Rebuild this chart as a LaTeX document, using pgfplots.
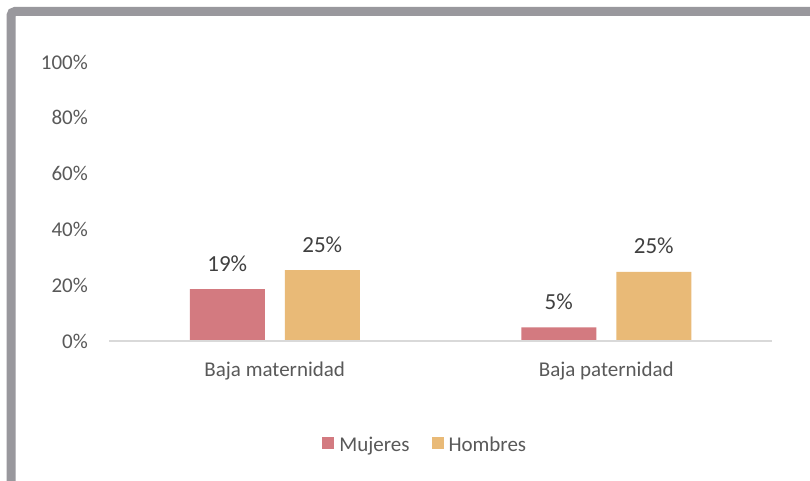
\documentclass[border=0pt]{standalone}
\usepackage{fontspec}
\setmainfont{Carlito}
\usepackage{pgfplots}
\pgfplotsset{compat=1.18}
\definecolor{frame}{RGB}{153,152,157}
\definecolor{muj}{RGB}{211,122,128}
\definecolor{hom}{RGB}{233,186,119}
\definecolor{ticktxt}{RGB}{89,89,89}
\definecolor{lbltxt}{RGB}{64,64,64}
\definecolor{axline}{RGB}{217,217,217}
\begin{document}
\begin{tikzpicture}
\path[use as bounding box] (0,0) rectangle (810pt,481pt);
\fill[white] (0,0) rectangle (810pt,481pt);
\draw[frame, line width=9pt, rounded corners=4pt] (11pt,-10pt) -- (11pt,469.5pt) -- (820pt,469.5pt);
\begin{axis}[
  at={(109pt,140pt)}, anchor=south west,
  scale only axis, width=663pt, height=279pt,
  xmin=-0.5, xmax=1.5, ymin=0, ymax=100,
  axis line style={draw=none},
  axis x line*=bottom, axis y line*=left,
  ybar=20pt, bar width=75pt,
  xtick={0,1}, xticklabels={Baja maternidad, Baja paternidad},
  ytick={0,20,40,60,80,100},
  yticklabels={0\%,20\%,40\%,60\%,80\%,100\%},
  major tick length=0pt, tick style={draw=none},
  x tick label style={anchor=base, yshift=-36pt, inner sep=0pt, font=\fontsize{21}{25}\selectfont, text=ticktxt},
  y tick label style={anchor=east, xshift=-21pt, inner sep=0pt, font=\fontsize{21}{25}\selectfont, text=ticktxt},
  point meta=explicit symbolic,
  nodes near coords,
  every node near coord/.append style={anchor=base, yshift=18pt, inner sep=0pt, font=\fontsize{23}{27}\selectfont, text=lbltxt},
  legend columns=2,
  legend style={at={(rel axis cs:0.477,-0.372)}, anchor=center, draw=none, fill=none,
    font=\fontsize{21}{25}\selectfont, text=ticktxt,
    /tikz/every even column/.append style={column sep=20pt}},
  legend image code/.code={\fill[#1,draw=none] (0pt,-4pt) rectangle (12pt,8pt); \path (15pt,0pt);},
  clip=false,
]
\addplot[fill=muj, draw=none] coordinates {(0,18.6) [19\%] (1,4.9) [5\%]};
\addplot[fill=hom, draw=none] coordinates {(0,25.4) [25\%] (1,24.8) [25\%]};
\draw[axline, line width=1.5pt] (rel axis cs:0,0) -- (rel axis cs:1,0);
\legend{Mujeres, Hombres}
\end{axis}
\end{tikzpicture}
\end{document}
